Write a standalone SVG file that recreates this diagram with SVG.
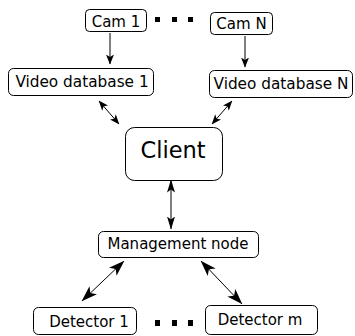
<svg xmlns="http://www.w3.org/2000/svg" width="355" height="336" viewBox="0 0 355 336">
<defs>
<style>
.box{fill:#fff;stroke:#000;stroke-width:1}
.t{font-family:"DejaVu Sans",sans-serif;font-size:15px;fill:#000;text-anchor:middle}
.c{stroke:#000;stroke-width:1;fill:none}
.dot{fill:#000}
</style>
<marker id="as" viewBox="0 0 10 8" refX="9.5" refY="4" markerWidth="10" markerHeight="8" markerUnits="userSpaceOnUse" orient="auto-start-reverse">
<path d="M0,0 L10,4 L0,8 L2.5,4 z" fill="#000"/>
</marker>
<marker id="am" viewBox="0 0 13 8" refX="12.5" refY="4" markerWidth="13" markerHeight="8" markerUnits="userSpaceOnUse" orient="auto-start-reverse">
<path d="M0,0 L13,4 L0,8 L3,4 z" fill="#000"/>
</marker>
<marker id="al" viewBox="0 0 16 11" refX="15.5" refY="5.5" markerWidth="16" markerHeight="11" markerUnits="userSpaceOnUse" orient="auto-start-reverse">
<path d="M0,0 L16,5.5 L0,11 L4,5.5 z" fill="#000"/>
</marker>
</defs>
<g id="connectors">
<line class="c" x1="110" y1="33" x2="110" y2="64" marker-end="url(#as)"/>
<line class="c" x1="245" y1="36" x2="245" y2="67" marker-end="url(#as)"/>
<line class="c" x1="99" y1="101" x2="119" y2="124" marker-start="url(#as)" marker-end="url(#as)"/>
<line class="c" x1="232" y1="101" x2="212" y2="124" marker-start="url(#as)" marker-end="url(#as)"/>
<line class="c" x1="171" y1="180" x2="171" y2="229" marker-start="url(#am)" marker-end="url(#am)"/>
<line class="c" x1="124" y1="261" x2="82" y2="301" marker-start="url(#al)" marker-end="url(#al)"/>
<line class="c" x1="201" y1="261" x2="242" y2="304" marker-start="url(#al)" marker-end="url(#al)"/>
</g>
<g id="dots-top">
<rect class="dot" x="155" y="17" width="5" height="5"/>
<rect class="dot" x="172" y="17" width="5" height="5"/>
<rect class="dot" x="188" y="17" width="5" height="5"/>
</g>
<g id="dots-bottom">
<rect class="dot" x="155" y="320" width="5" height="6"/>
<rect class="dot" x="172" y="320" width="5" height="6"/>
<rect class="dot" x="188" y="320" width="5" height="6"/>
</g>
<g id="cam1">
<rect class="box" x="85.5" y="9.5" width="61" height="22" rx="4"/>
<text class="t" x="116" y="27">Cam 1</text>
</g>
<g id="camN">
<rect class="box" x="210.5" y="12.5" width="62" height="22" rx="4"/>
<text class="t" x="241.5" y="29">Cam N</text>
</g>
<g id="vd1">
<rect class="box" x="8.5" y="68.5" width="145" height="27" rx="5"/>
<text class="t" x="82" y="87" style="font-size:15.3px">Video database 1</text>
</g>
<g id="vdN">
<rect class="box" x="209.5" y="70.5" width="143" height="27" rx="5"/>
<text class="t" x="281" y="89" style="font-size:15.3px">Video database N</text>
</g>
<g id="client">
<rect class="box" x="125.5" y="127.5" width="97" height="53" rx="9"/>
<text class="t" x="173" y="158" style="font-size:22.5px">Client</text>
</g>
<g id="management">
<rect class="box" x="98.5" y="231.5" width="160" height="26" rx="5"/>
<text class="t" x="178" y="249">Management node</text>
</g>
<g id="detector1">
<rect class="box" x="33.5" y="307.5" width="103" height="27" rx="5"/>
<text class="t" x="89" y="327">Detector 1</text>
</g>
<g id="detectorm">
<rect class="box" x="205.5" y="305.5" width="112" height="29" rx="5"/>
<text class="t" x="260" y="325">Detector m</text>
</g>
</svg>
